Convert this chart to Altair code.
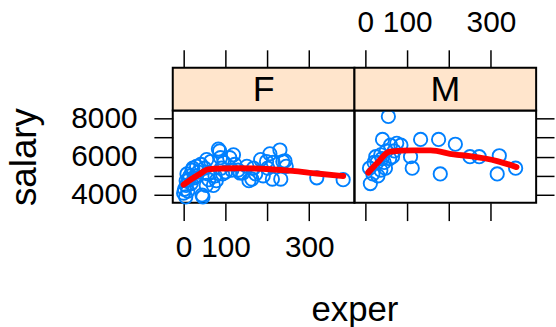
import altair as alt
import pandas as pd

# ---- data ----
f_exper = [0, 2, 5, 6, 6, 8, 10, 12, 15, 18, 20, 22, 25, 28,
           31, 35, 41, 44, 46, 50, 54, 55, 58, 60, 65,
           71, 75, 78, 83, 86, 88, 90, 93, 96, 100,
           110, 115, 119, 122, 130, 135, 141, 151, 156, 163, 167, 172, 184,
           190, 198, 201, 206, 212, 214, 230, 232, 237, 242, 245,
           318, 381]
f_salary = [4100, 4300, 3900, 4500, 4740, 5100, 4200, 4800, 5000, 4600, 5300, 5400, 4900, 5000,
            5500, 5200, 5600, 4000, 3900, 5400, 4500, 5850, 5100, 4800, 5750,
            4500, 5000, 4750, 6400, 6300, 5950, 5400, 5100, 5700, 5200,
            5950, 5300, 6100, 5600, 5300, 5150, 5150, 5500, 4750, 4830, 5400, 5100, 5850,
            5000, 5750, 5400, 6150, 4830, 5700, 6350, 4830, 5750, 5780, 5500,
            4900, 4800]

m_exper = [55, 41, 132, 175, 215, 60, 75, 85, 108, 112, 179, 250, 272, 320, 315, 359,
           10, 12, 18, 25, 37, 37, 50, 69, 21, 45, 30, 58, 65, 48, 28, 40]
m_salary = [8100, 6900, 6900, 6900, 6650, 6600, 6700, 6600, 6000, 5400, 5100, 6000, 6000, 6050, 5100, 5400,
            5400, 4600, 5100, 6000, 6100, 5300, 6300, 6300, 5700, 5700, 5000, 5900, 6000, 5400, 5700, 5900]

f_curve_exper = [0, 20, 40, 58, 90, 128, 207, 260, 318, 381]
f_curve_salary = [4540, 4850, 5120, 5340, 5390, 5400, 5350, 5260, 5120, 4990]
m_curve_exper = [7, 30, 57, 113, 156, 211, 250, 315, 361]
m_curve_salary = [5170, 5700, 6260, 6330, 6330, 6120, 6030, 5775, 5460]

sexes = ["F", "M"]
x_ticks = [0, 100, 200, 300]
y_ticks = [4000, 5000, 6000, 7000, 8000]

# ---- styling ----
X_DOMAIN = [-26, 408]
Y_DOMAIN = [3600, 8415]
W, H = 183, 93
STRIP = 43
FONT = "Liberation Sans"
PT_COLOR = "#0080ff"
STRIP_FILL = "#ffe5cc"

xs = alt.Scale(domain=X_DOMAIN, nice=False, zero=False)
ys = alt.Scale(domain=Y_DOMAIN, nice=False, zero=False)


def axis(**kw):
    base = dict(domain=False, grid=False, tickColor="black", tickWidth=1.5,
                labelFont=FONT, labelFontSize=30, labelColor="black",
                titleFont=FONT, titleColor="black", titleFontWeight="normal",
                format="d")
    base.update(kw)
    return alt.Axis(**base)


x_expr = "datum.value == 200 ? '' : datum.label"
y_expr = "datum.value % 2000 == 0 ? datum.label : ''"


def panel(sex, ex, sal, cex, csal, left):
    pts = pd.DataFrame({"exper": ex, "salary": sal})
    crv = pd.DataFrame({"exper": cex, "salary": csal})
    if left:
        x_a = axis(orient="bottom", values=x_ticks, labelExpr=x_expr, tickSize=18,
                   labelPadding=12, title=None)
        x_b = axis(orient="top", values=x_ticks, labels=False, tickSize=18,
                   offset=STRIP, title=None)
        y_a = axis(orient="left", values=y_ticks, labelExpr=y_expr, tickSize=19,
                   labelPadding=17, title="salary", titleFontSize=37, titlePadding=28)
    else:
        x_a = axis(orient="bottom", values=x_ticks, labels=False, tickSize=18, title=None)
        x_b = axis(orient="top", values=x_ticks, labelExpr=x_expr, tickSize=18,
                   labelPadding=12, offset=STRIP, title=None)
        y_a = axis(orient="right", values=y_ticks, labels=False, tickSize=18, title=None)

    points = alt.Chart(pts).mark_point(
        shape="circle", filled=False, color=PT_COLOR, size=180, strokeWidth=1.9, opacity=1
    ).encode(
        x=alt.X("exper:Q", scale=xs, axis=x_a),
        y=alt.Y("salary:Q", scale=ys, axis=y_a),
    )
    line = alt.Chart(crv).mark_line(
        color="red", strokeWidth=6, strokeCap="round", strokeJoin="round", interpolate="monotone"
    ).encode(
        x=alt.X("exper:Q", scale=xs, axis=x_b),
        y=alt.Y("salary:Q", scale=ys, axis=None),
    )
    strip_df = pd.DataFrame({"sex": [sex]})
    strip = alt.Chart(strip_df).mark_rect(
        fill=STRIP_FILL, stroke="black", strokeWidth=2
    ).encode(
        x=alt.value(0), x2=alt.value(W), y=alt.value(-STRIP), y2=alt.value(0)
    )
    strip_txt = alt.Chart(strip_df).mark_text(
        font=FONT, fontSize=36, color="black", align="center", baseline="middle"
    ).encode(
        text="sex:N", x=alt.value(W / 2), y=alt.value(-STRIP / 2 + 1)
    )
    layers = [points, line, strip, strip_txt]
    if left:
        title_df = pd.DataFrame({"t": ["exper"]})
        xt = alt.Chart(title_df).mark_text(
            font=FONT, fontSize=35, color="black", align="center", baseline="alphabetic"
        ).encode(text="t:N", x=alt.value(W + 0.5), y=alt.value(212))
        layers.append(xt)
    return alt.layer(*layers).resolve_axis(x="independent", y="independent").properties(width=W, height=H)


chart = alt.hconcat(
    panel("F", f_exper, f_salary, f_curve_exper, f_curve_salary, True),
    panel("M", m_exper, m_salary, m_curve_exper, m_curve_salary, False),
    spacing=0, bounds="flush",
).properties(
    padding={"left": 4, "top": 6, "right": 0, "bottom": 0}
).configure_view(
    stroke="black", strokeWidth=2
)

chart.save("out.html", embed_options={"renderer": "svg", "actions": False})
